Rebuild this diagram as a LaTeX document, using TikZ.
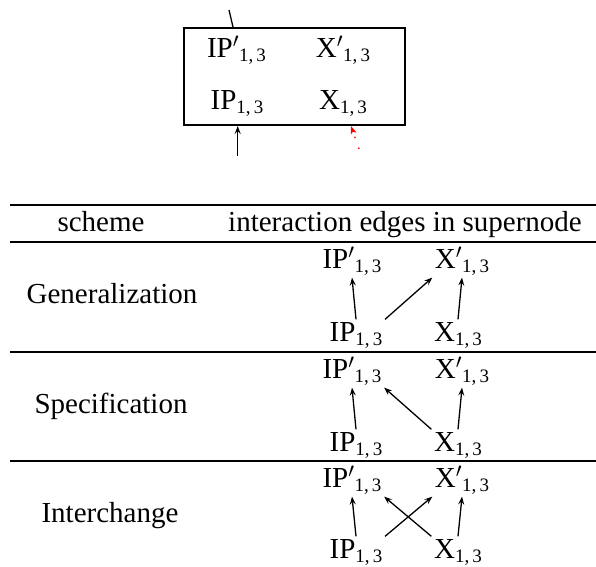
\documentclass[tikz,border=0pt]{standalone}
\usepackage{fontspec}
\setmainfont{Liberation Serif}
\usetikzlibrary{arrows.meta}
\newcommand\subot{\raisebox{-4pt}{\fontsize{19}{19}\selectfont 1,\,3}}
\newcommand\IPp{IP$'$\subot}
\newcommand\Xp{X$'$\subot}
\newcommand\IPn{IP\subot}
\newcommand\Xn{X\subot}
\tikzset{
  lbl/.style={font=\fontsize{29}{34}\selectfont, inner sep=2.5pt, anchor=base},
  edge/.style={-{Stealth[length=8pt,width=6pt,inset=3pt]}, line width=1.3pt},
  rulel/.style={line width=1.1pt},
  boxl/.style={draw, line width=2pt, minimum width=221pt, minimum height=97pt, inner sep=0pt, anchor=north west},
}
\begin{document}
\begin{tikzpicture}[x=1pt,y=-1pt]
\useasboundingbox (0,0) rectangle (596,566);
% supernode box
\node[boxl] (box) at (183,27) {};
\node[lbl] (tipp) at (236.5,57) {\IPp};
\node[lbl] (txp) at (343,57) {\Xp};
\node[lbl] (tip) at (237,109) {\IPn};
\node[lbl] (tx) at (343,109) {\Xn};
\coordinate (tin) at (229,10);
\path (box.north west) ++(50,0) coordinate (tinend);
\draw[line width=1.3pt] (tin) -- (tinend);
\coordinate (bin) at (237.7,156);
\draw[edge] (bin) -- (bin |- box.south);
\coordinate (rin) at (359,149);
\path (box.south west) ++(168,0) coordinate (rend);
\draw[red, line width=1.3pt, dash pattern=on 1.5pt off 10pt, -{Stealth[length=8pt,width=6pt,inset=2pt]}] (rin) -- (rend);
% table rules
\draw[rulel] (10,205) -- (596,205);
\draw[rulel] (10,242) -- (596,242);
\draw[rulel] (10,352) -- (596,352);
\draw[rulel] (10,461) -- (596,461);
% header
\node[lbl] (hs) at (101,231) {scheme};
\node[lbl] (hi) at (405,231) {interaction edges in supernode};
% row 1
\node[lbl] (s1) at (112,303) {Generalization};
\node[lbl] (ipp1) at (352,268) {\IPp};
\node[lbl] (xp1) at (462,268) {\Xp};
\node[lbl] (ip1) at (356,341) {\IPn};
\node[lbl] (x1) at (458,341) {\Xn};
\draw[edge] (ip1.north) -- (ipp1.south);
\draw[edge] (x1.north) -- (xp1.south);
\draw[edge] (ip1.north east) -- (xp1.south west);
% row 2
\node[lbl] (s2) at (111,413) {Specification};
\node[lbl] (ipp2) at (352,378) {\IPp};
\node[lbl] (xp2) at (462,378) {\Xp};
\node[lbl] (ip2) at (356,451) {\IPn};
\node[lbl] (x2) at (458,451) {\Xn};
\draw[edge] (ip2.north) -- (ipp2.south);
\draw[edge] (x2.north) -- (xp2.south);
\draw[edge] (x2.north west) -- (ipp2.south east);
% row 3
\node[lbl] (s3) at (110,522) {Interchange};
\node[lbl] (ipp3) at (352,487) {\IPp};
\node[lbl] (xp3) at (462,487) {\Xp};
\node[lbl] (ip3) at (356,558) {\IPn};
\node[lbl] (x3) at (458,558) {\Xn};
\draw[edge] (ip3.north) -- (ipp3.south);
\draw[edge] (x3.north) -- (xp3.south);
\draw[edge] (ip3.north east) -- (xp3.south west);
\draw[edge] (x3.north west) -- (ipp3.south east);
\end{tikzpicture}
\end{document}
